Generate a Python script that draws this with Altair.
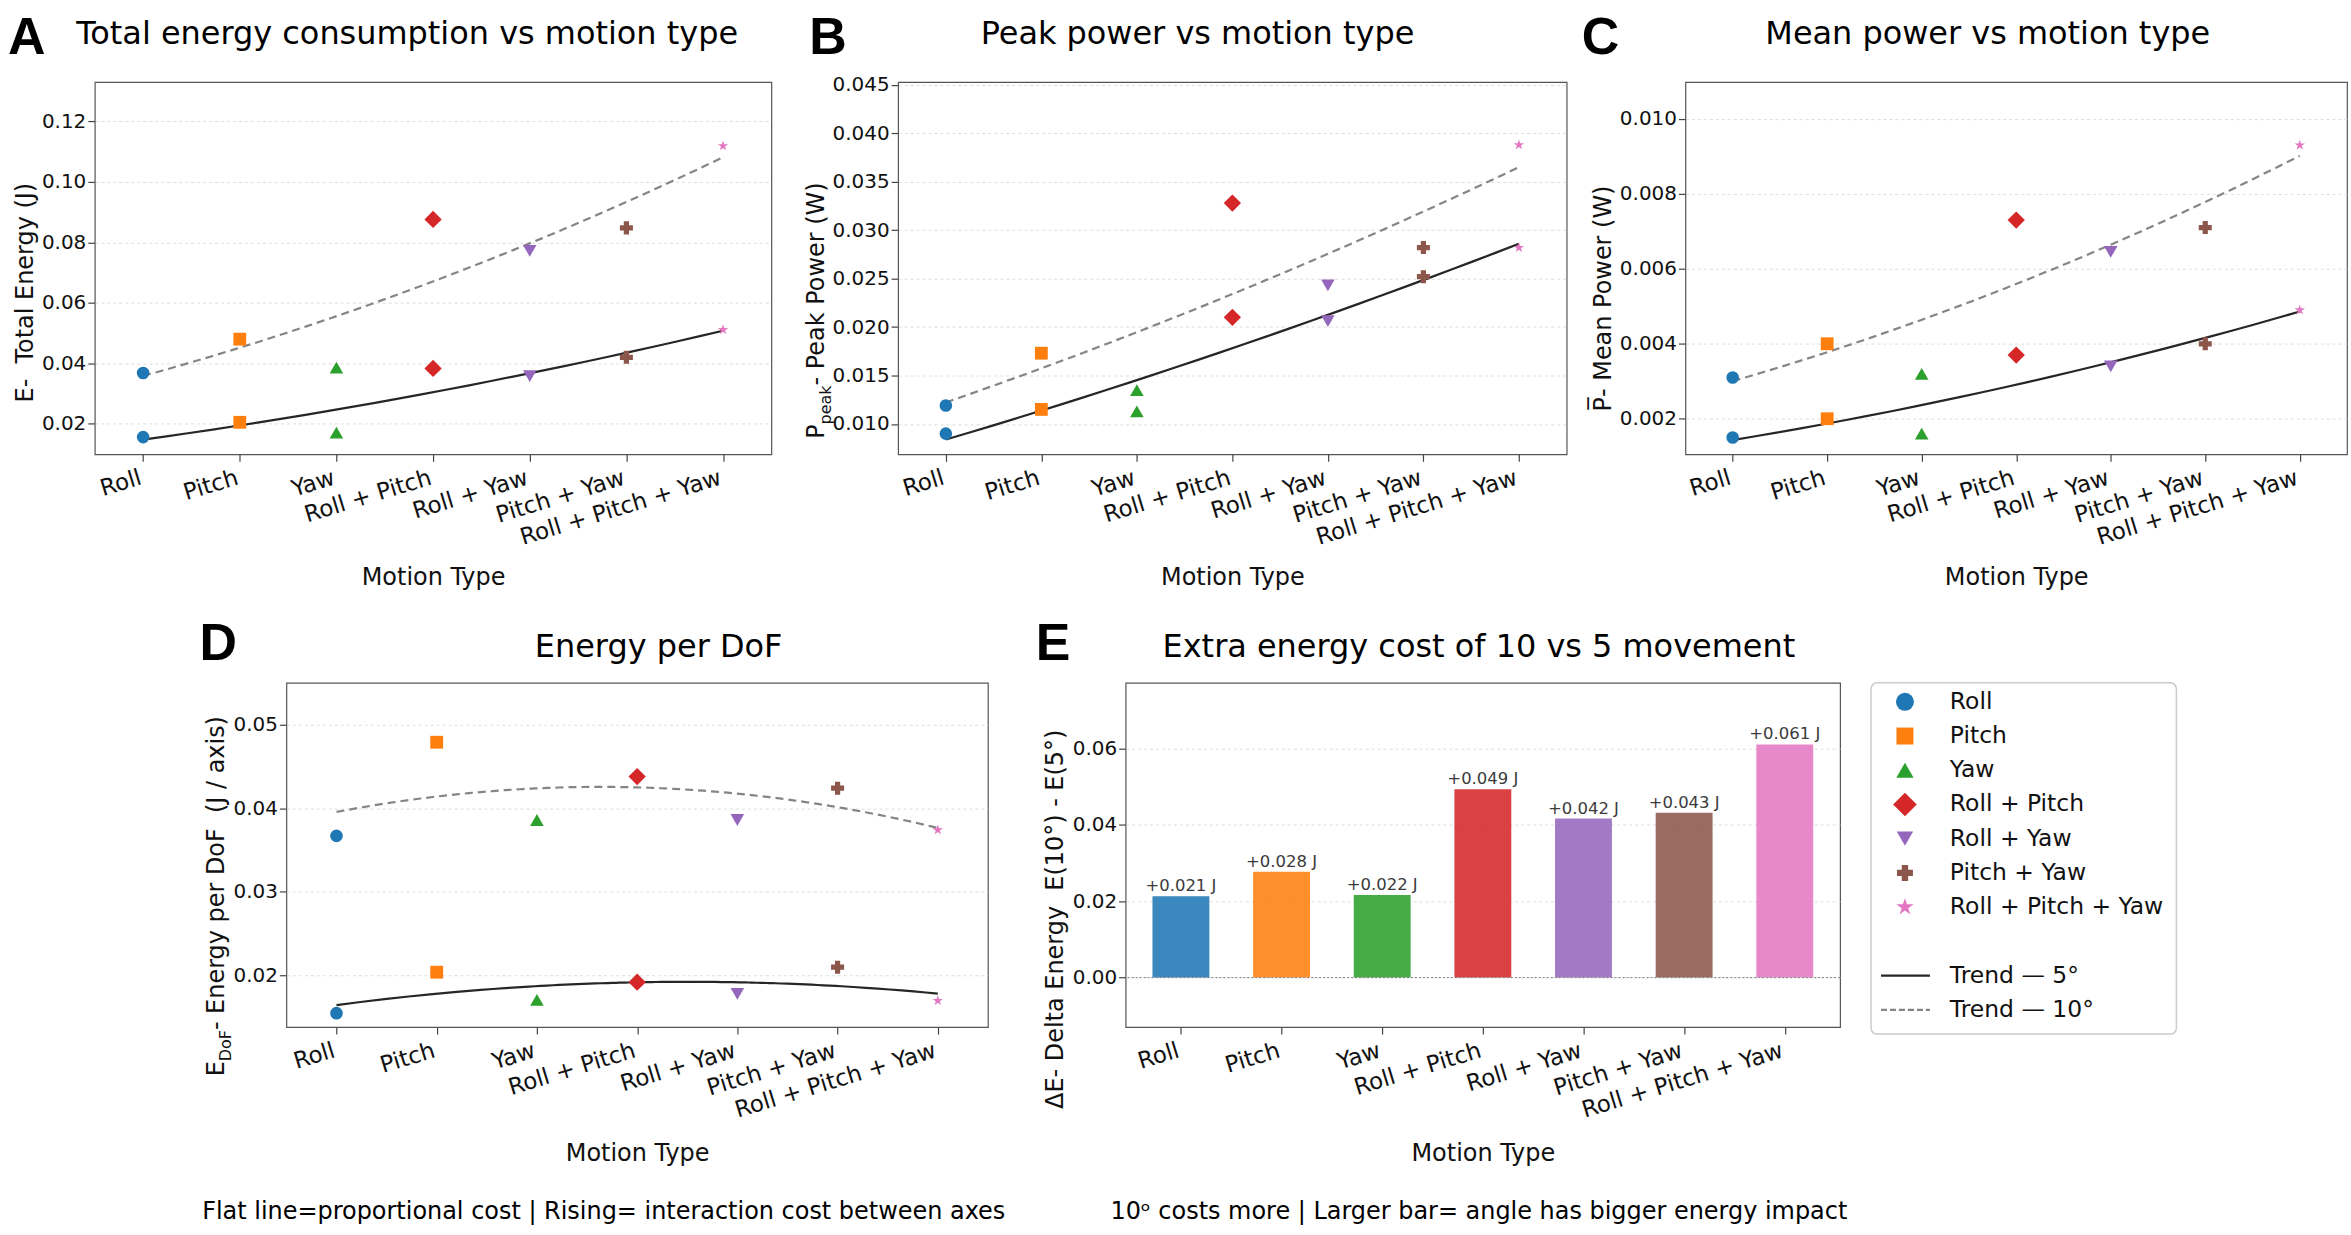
import altair as alt
import pandas as pd

FONT = "DejaVu Sans"
LETTER_FONT = "Liberation Sans"

# ---- categories and styling -------------------------------------------------
motions = ["Roll", "Pitch", "Yaw", "Roll + Pitch", "Roll + Yaw", "Pitch + Yaw", "Roll + Pitch + Yaw"]
palette = ["#1f77b4", "#ff7f0e", "#2ca02c", "#d62728", "#9467bd", "#8c564b", "#e377c2"]
star_path = ("M0,-1L0.2245,-0.309L0.9511,-0.309L0.3633,0.118L0.5878,0.809L0,0.382"
             "L-0.5878,0.809L-0.3633,0.118L-0.9511,-0.309L-0.2245,-0.309Z")
marker_shapes = ["circle", "square", "triangle-up", "diamond", "triangle-down", "cross", star_path]
marker_sizes = [160, 165, 185, 300, 185, 170, 120]
legend_marker_sizes = [324, 289, 300, 560, 270, 256, 330]
trend_labels = ["Trend \u2014 5\u00b0", "Trend \u2014 10\u00b0"]

# ---- measured values (5 deg / 10 deg movements) -----------------------------
total_energy_5 = [0.0156, 0.0205, 0.0171, 0.0383, 0.0358, 0.0420, 0.0511]
total_energy_10 = [0.0368, 0.0480, 0.0386, 0.0876, 0.0772, 0.0848, 0.1119]
peak_power_5 = [0.0090, 0.0115, 0.0113, 0.0210, 0.0206, 0.0252, 0.0282]
peak_power_10 = [0.0119, 0.0173, 0.0135, 0.0328, 0.0243, 0.0282, 0.0388]
mean_power_5 = [0.0015, 0.0020, 0.0016, 0.0037, 0.0034, 0.0040, 0.0049]
mean_power_10 = [0.0031, 0.0040, 0.0032, 0.0073, 0.00645, 0.0071, 0.0093]
energy_per_dof_5 = [0.0155, 0.0204, 0.0171, 0.0192, 0.0178, 0.0210, 0.0170]
energy_per_dof_10 = [0.0367, 0.0479, 0.0386, 0.0438, 0.0386, 0.0424, 0.0374]
delta_energy = [0.0213, 0.0277, 0.0216, 0.0493, 0.0416, 0.0431, 0.0610]

idx = list(range(len(motions)))
label_expr = "[" + ",".join("'" + m + "'" for m in motions) + "][datum.value]"
one = pd.DataFrame({"k": [0]})


def x_enc(title_y):
    return alt.X(
        "idx:Q",
        scale=alt.Scale(domain=[-0.5, 6.5], nice=False, zero=False),
        axis=alt.Axis(
            values=idx, labelExpr=label_expr, title="Motion Type",
            labelAngle=-17, labelAlign="right", labelBaseline="top", labelPadding=5,
            labelOffset=-6, labelFontSize=23, labelFont=FONT, labelColor="#111111", labelLimit=500,
            labelOverlap=False, labelFlush=False, labelBound=False,
            tickSize=7, tickColor="#444444", tickWidth=1.2, domain=False, grid=False,
            titleFont=FONT, titleFontSize=24, titleFontWeight="normal", titleColor="#111111",
            titleY=title_y, titleBaseline="alphabetic",
        ),
    )


def y_axis(ticks, fmt):
    return alt.Axis(
        values=ticks, format=fmt, title=None, grid=True, gridColor="#d9d9d9",
        gridDash=[3, 3], gridWidth=0.9, labelFontSize=20, labelFont=FONT,
        labelColor="#111111", labelPadding=2, tickSize=7, tickColor="#444444",
        tickWidth=1.2, domain=False, labelOverlap=False,
    )


def text_at(x, y, text, size, font=FONT, **kw):
    return alt.Chart(one).mark_text(text=text, fontSize=size, font=font, **kw).encode(
        x=alt.value(x), y=alt.value(y)
    )


def frame_anchor(left, top, right, bottom):
    # invisible rule that fixes the panel's layout bounds
    return alt.Chart(one).mark_rule(opacity=0).encode(
        x=alt.value(left), x2=alt.value(right), y=alt.value(top), y2=alt.value(bottom)
    )


YT = 24


def ytitle_single(text, bx, start_y):
    return [text_at(bx, start_y, text, YT, angle=270, align="left", baseline="alphabetic", color="#111111")]


def ytitle_sub(main, sym, sub, bx, qy, sub_w):
    return [
        text_at(bx, qy, main, YT, angle=270, align="left", baseline="alphabetic", color="#111111"),
        text_at(bx, qy, sub, 16, angle=270, align="right", baseline="alphabetic", dy=7, color="#111111"),
        text_at(bx, qy, sym, YT, angle=270, align="right", baseline="alphabetic", dx=-sub_w, color="#111111"),
    ]


def heading(letter, lx, ly, title, tcx, ty):
    return [
        text_at(lx, ly, letter, 52, font=LETTER_FONT, fontWeight="bold", align="left",
                baseline="alphabetic", color="#000000"),
        text_at(tcx, ty, title, 32, align="center", baseline="alphabetic", color="#000000"),
    ]


color_enc = alt.Color("motion:N", scale=alt.Scale(domain=motions, range=palette), legend=None)
shape_enc = alt.Shape("motion:N", scale=alt.Scale(domain=motions, range=marker_shapes), legend=None)


def scatter_panel(v5, v10, dom, ticks, fmt, w, h, title_y, anchor, extras):
    df = pd.DataFrame({"idx": idx, "motion": motions, "v5": v5, "v10": v10, "msize": marker_sizes})
    base = alt.Chart(df)
    ys = alt.Scale(domain=dom, nice=False, zero=False)
    X = x_enc(title_y)
    size_enc = alt.Size("msize:Q", scale=None, legend=None)
    t5 = base.transform_regression("idx", "v5", method="poly", order=2).mark_line(
        color="#262626", strokeWidth=2.2).encode(x=X, y=alt.Y("v5:Q", scale=ys, axis=y_axis(ticks, fmt)))
    t10 = base.transform_regression("idx", "v10", method="poly", order=2).mark_line(
        color="#858585", strokeWidth=2.2, strokeDash=[8, 5]).encode(
        x=X, y=alt.Y("v10:Q", scale=ys, axis=y_axis(ticks, fmt)))
    p5 = base.mark_point(filled=True, opacity=1).encode(
        x=X, y=alt.Y("v5:Q", scale=ys, axis=y_axis(ticks, fmt)),
        color=color_enc, shape=shape_enc, size=size_enc)
    p10 = base.mark_point(filled=True, opacity=1).encode(
        x=X, y=alt.Y("v10:Q", scale=ys, axis=y_axis(ticks, fmt)),
        color=color_enc, shape=shape_enc, size=size_enc)
    return alt.layer(t5, t10, p5, p10, *extras, anchor).properties(width=w, height=h)


TOP_H = 373
BOT_H = 345
TOP_EXT = 75      # space above the top-row plots
TOP_BELOW = 145   # space below the top-row plots
BOT_EXT = 72      # space above the bottom-row plots
BOT_BELOW = 205   # space below the bottom-row plots

wa, wb, wc = 678, 670, 663
panel_a = scatter_panel(
    total_energy_5, total_energy_10, [0.0099, 0.1330], [0.02, 0.04, 0.06, 0.08, 0.10, 0.12], ".2f",
    wa, TOP_H, 130, frame_anchor(-90, -TOP_EXT, wa + 5, TOP_H + TOP_BELOW),
    heading("A", -87, -28, "Total energy consumption vs motion type", 313, -38)
    + ytitle_single("E-\u00a0 Total Energy (J)", -62, 321),
)
panel_b = scatter_panel(
    peak_power_5, peak_power_10, [0.00686, 0.04528],
    [0.010, 0.015, 0.020, 0.025, 0.030, 0.035, 0.040, 0.045], ".3f",
    wb, TOP_H, 130, frame_anchor(-115, -TOP_EXT, wb + 5, TOP_H + TOP_BELOW),
    heading("B", -89, -28, "Peak power vs motion type", 300, -38)
    + ytitle_sub("- Peak Power (W)", "P", "peak", -74, 304, 39),
)
panel_c = scatter_panel(
    mean_power_5, mean_power_10, [0.00105, 0.01098], [0.002, 0.004, 0.006, 0.008, 0.010], ".3f",
    wc, TOP_H, 130, frame_anchor(-107, -TOP_EXT, wc + 3, TOP_H + TOP_BELOW),
    heading("C", -104, -28, "Mean power vs motion type", 303, -38)
    + ytitle_single("P\u0305- Mean Power (W)", -75, 330),
)

wd = 703
panel_d = scatter_panel(
    energy_per_dof_5, energy_per_dof_10, [0.01383, 0.0550], [0.02, 0.03, 0.04, 0.05], ".2f",
    wd, BOT_H, 134, frame_anchor(-100, -BOT_EXT, wd + 20, BOT_H + BOT_BELOW),
    heading("D", -87, -23, "Energy per DoF", 373, -26)
    + ytitle_sub("- Energy per DoF\u00a0\u00a0(J / axis)", "E", "DoF", -63, 348, 31)
    + [text_at(318, 537, "Flat line=proportional cost | Rising= interaction cost between axes", 24,
               align="center", baseline="alphabetic", color="#000000")],
)

# ---- panel E: bar chart of the extra energy --------------------------------
we = 716
df_e = pd.DataFrame({"idx": idx, "motion": motions, "delta": delta_energy})
ys_e = alt.Scale(domain=[-0.01295, 0.0771], nice=False, zero=False)
Xe = x_enc(134)
bars = alt.Chart(df_e).mark_bar(size=57, opacity=0.88).encode(
    x=Xe, y=alt.Y("delta:Q", scale=ys_e, axis=y_axis([0.0, 0.02, 0.04, 0.06], ".2f")),
    y2=alt.datum(0), color=color_enc)
bar_labels = alt.Chart(df_e).transform_calculate(
    lbl="'+' + format(datum.delta, '.3f') + ' J'"
).mark_text(dy=-5, baseline="alphabetic", fontSize=16.5, font=FONT, color="#3b3b3b").encode(
    x=Xe, y=alt.Y("delta:Q", scale=ys_e), text="lbl:N")
zero_line = alt.Chart(one).mark_rule(color="#808080", strokeWidth=1, strokeDash=[2, 2]).encode(
    y=alt.datum(0))
panel_e = alt.layer(
    bars, zero_line, bar_labels,
    *heading("E", -90, -23, "Extra energy cost of 10 vs 5 movement", 354, -26),
    *ytitle_single("\u0394E- Delta Energy\u00a0\u00a0E(10\u00b0) - E(5\u00b0)", -63, 427),
    text_at(354, 537, "10\u1d52 costs more | Larger bar= angle has bigger energy impact", 24,
            align="center", baseline="alphabetic", color="#000000"),
    frame_anchor(-111, -BOT_EXT, we + 24, BOT_H + BOT_BELOW),
).properties(width=we, height=BOT_H)

# ---- shared legend ------------------------------------------------------------
LEG_W, LEG_H = 306, 352
leg_y = alt.Y("row:Q", scale=alt.Scale(domain=[-0.554, 9.71], reverse=True, nice=False, zero=False), axis=None)
df_leg = pd.DataFrame({"row": idx, "motion": motions, "label": motions, "msize": legend_marker_sizes})
df_leg_lines = pd.DataFrame({"row": [8, 9], "label": trend_labels})
leg_syms = alt.Chart(df_leg).mark_point(filled=True, opacity=1).encode(
    x=alt.value(34), y=leg_y, color=color_enc, shape=shape_enc,
    size=alt.Size("msize:Q", scale=None, legend=None))
leg_text = alt.Chart(df_leg).mark_text(align="left", baseline="middle", fontSize=23.5, font=FONT,
                                       color="#111111").encode(x=alt.value(79), y=leg_y, text="label:N")
leg_line_5 = alt.Chart(df_leg_lines).transform_filter(alt.datum.row == 8).mark_rule(
    strokeWidth=2.2, color="#262626").encode(x=alt.value(10), x2=alt.value(59), y=leg_y)
leg_line_10 = alt.Chart(df_leg_lines).transform_filter(alt.datum.row == 9).mark_rule(
    strokeWidth=2.2, color="#858585", strokeDash=[6, 3]).encode(x=alt.value(10), x2=alt.value(59), y=leg_y)
leg_line_text = alt.Chart(df_leg_lines).mark_text(align="left", baseline="middle", fontSize=23.5, font=FONT,
                                                  color="#111111").encode(x=alt.value(79), y=leg_y, text="label:N")
legend = alt.layer(
    leg_line_5, leg_line_10, leg_syms, leg_text, leg_line_text,
    frame_anchor(0, -(BOT_EXT + 5), LEG_W, LEG_H)
).properties(width=LEG_W, height=LEG_H,
             view=alt.ViewBackground(stroke="#cccccc", strokeWidth=1.5, cornerRadius=6, fill="white"))

spacer = alt.Chart(one).mark_point(opacity=0).encode(x=alt.value(5), y=alt.value(5)).properties(
    width=85, height=20, view=alt.ViewBackground(stroke="transparent"))

top = alt.hconcat(panel_a, panel_b, panel_c, spacing=5)
bottom = alt.hconcat(spacer, panel_d, panel_e, legend, spacing=5)
chart = alt.vconcat(top, bottom, spacing=5).properties(
    padding={"left": 4, "top": 5, "right": 0, "bottom": 3}, background="white"
).configure_view(stroke="#555555", strokeWidth=1.2)

chart.save("out.html", embed_options={"renderer": "svg", "actions": False})
